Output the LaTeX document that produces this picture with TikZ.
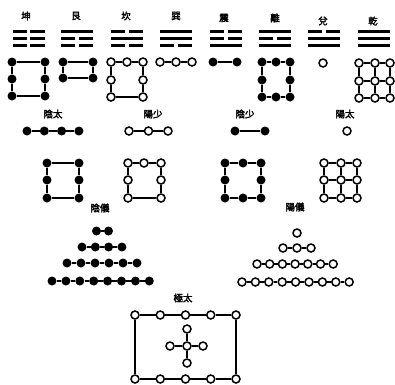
\documentclass[tikz,border=0pt]{standalone}
\usepackage{fontspec}
\newfontfamily\cjk{Noto Sans CJK TC}[FakeBold=2.5]
\newcommand\mytrigram[4]{%
  \foreach \b [count=\k] in {#2,#3,#4}{%
    \pgfmathsetmacro\yy{24.5+7*\k}%
    \ifnum\b=1
      \draw[trl] (#1-16,\yy) -- (#1+16,\yy);
    \else
      \draw[trl] (#1-16,\yy) -- (#1-1.8,\yy) (#1+1.8,\yy) -- (#1+16,\yy);
    \fi}}
% row of dots: name, style, count, xstart, spacing, y
\newcommand\dotrow[6]{%
  \foreach \i in {1,...,#3}{\node[#2] (#1\i) at ({#4+(\i-1)*#5},#6) {};}%
  \foreach \i [evaluate=\i as \j using int(\i-1)] in {2,...,#3}{\draw[ln] (#1\j) -- (#1\i);}}
% six dots: name, style, xl, xr, yt, ym, yb
\newcommand\sqsix[7]{%
  \node[#2] (#1tl) at (#3,#5) {}; \node[#2] (#1tr) at (#4,#5) {};
  \node[#2] (#1ml) at (#3,#6) {}; \node[#2] (#1mr) at (#4,#6) {};
  \node[#2] (#1bl) at (#3,#7) {}; \node[#2] (#1br) at (#4,#7) {};
  \draw[ln] (#1tl) -- (#1tr) (#1bl) -- (#1br) (#1tl) -- (#1ml) -- (#1bl) (#1tr) -- (#1mr) -- (#1br);}
% seven dots: name, style, xl, xm, xr, yt, ym, yb
\newcommand\sqseven[8]{%
  \node[#2] (#1tl) at (#3,#6) {}; \node[#2] (#1tm) at (#4,#6) {}; \node[#2] (#1tr) at (#5,#6) {};
  \node[#2] (#1ml) at (#3,#7) {}; \node[#2] (#1mr) at (#5,#7) {};
  \node[#2] (#1bl) at (#3,#8) {}; \node[#2] (#1br) at (#5,#8) {};
  \draw[ln] (#1tl) -- (#1tm) -- (#1tr) -- (#1mr) -- (#1br) -- (#1bl) -- (#1ml) -- (#1tl);}
% eight dots
\newcommand\sqeight[8]{%
  \node[#2] (#1tl) at (#3,#6) {}; \node[#2] (#1tm) at (#4,#6) {}; \node[#2] (#1tr) at (#5,#6) {};
  \node[#2] (#1ml) at (#3,#7) {}; \node[#2] (#1mr) at (#5,#7) {};
  \node[#2] (#1bl) at (#3,#8) {}; \node[#2] (#1bm) at (#4,#8) {}; \node[#2] (#1br) at (#5,#8) {};
  \draw[ln] (#1tl) -- (#1tm) -- (#1tr) -- (#1mr) -- (#1br) -- (#1bm) -- (#1bl) -- (#1ml) -- (#1tl);}
% nine dots grid
\newcommand\sqnine[8]{%
  \node[#2] (#1tl) at (#3,#6) {}; \node[#2] (#1tm) at (#4,#6) {}; \node[#2] (#1tr) at (#5,#6) {};
  \node[#2] (#1ml) at (#3,#7) {}; \node[#2] (#1mm) at (#4,#7) {}; \node[#2] (#1mr) at (#5,#7) {};
  \node[#2] (#1bl) at (#3,#8) {}; \node[#2] (#1bm) at (#4,#8) {}; \node[#2] (#1br) at (#5,#8) {};
  \draw[ln] (#1tl) -- (#1tm) -- (#1tr) (#1ml) -- (#1mm) -- (#1mr) (#1bl) -- (#1bm) -- (#1br)
    (#1tl) -- (#1ml) -- (#1bl) (#1tm) -- (#1mm) -- (#1bm) (#1tr) -- (#1mr) -- (#1br);}
\begin{document}
\begin{tikzpicture}[x=1pt,y=-1pt,
  bd/.style={circle,fill=black,inner sep=0pt,minimum size=9pt},
  wd/.style={circle,draw=black,fill=white,line width=1.5pt,inner sep=0pt,minimum size=8pt},
  ln/.style={line width=1.5pt},
  trl/.style={line width=2.4pt},
  lab/.style={font=\cjk\fontsize{9.5}{10}\selectfont,inner sep=0pt}]
\useasboundingbox (0,0) rectangle (395,384);
% trigram names
\node[lab] (n1) at (26,16) {坤};
\node[lab] (n2) at (76,16) {艮};
\node[lab] (n3) at (126,16) {坎};
\node[lab] (n4) at (176,16) {巽};
\node[lab] (n5) at (224,18) {震};
\node[lab] (n6) at (275,18) {離};
\node[lab] (n7) at (323,21) {兌};
\node[lab] (n8) at (373,21) {乾};
% trigrams (top to bottom, 1 solid, 0 broken)
\mytrigram{28.5}{0}{0}{0}
\mytrigram{77}{1}{0}{0}
\mytrigram{127}{0}{1}{0}
\mytrigram{176}{1}{1}{0}
\mytrigram{226}{0}{0}{1}
\mytrigram{275}{1}{0}{1}
\mytrigram{324}{0}{1}{1}
\mytrigram{374}{1}{1}{1}
% top row of dot figures
\sqsix{kun}{bd}{12}{45}{62}{79}{96}
\node[bd] (gentl) at (63,62) {}; \node[bd] (gentr) at (93,62) {};
\node[bd] (genbl) at (63,78) {}; \node[bd] (genbr) at (93,78) {};
\draw[ln] (gentl) -- (gentr) -- (genbr) -- (genbl) -- (gentl);
\sqseven{kan}{wd}{111}{127}{143}{62}{80}{97}
\dotrow{xun}{wd}{3}{160}{16}{62}
\dotrow{zhen}{bd}{2}{213}{24}{62}
\sqeight{li}{bd}{262}{276}{290}{62}{80}{97}
\node[wd] (dui) at (323,63) {};
\sqnine{qian}{wd}{359}{375}{390}{63}{81}{98}
% four images
\node[lab] (l1) at (53,114) {陰太};
\node[lab] (l2) at (153,114) {陽少};
\node[lab] (l3) at (245,114) {陰少};
\node[lab] (l4) at (345,114) {陽太};
\dotrow{ta}{bd}{4}{27}{17.3}{131}
\dotrow{sa}{wd}{3}{129}{19.5}{131}
\dotrow{sb}{bd}{2}{235}{30}{131}
\node[wd] (tb) at (347,131) {};
\sqsix{sq1}{bd}{47}{79}{163}{180}{198}
\sqseven{sq2}{wd}{128}{144}{161}{163}{180}{198}
\sqeight{sq3}{bd}{225}{243}{261}{163}{180}{198}
\sqnine{sq4}{wd}{324}{341}{357}{163}{180}{198}
% two modes
\node[lab] (y1) at (100,208) {陰儀};
\node[lab] (y2) at (295,207) {陽儀};
\dotrow{ba}{bd}{2}{96.5}{12}{231}
\dotrow{bb}{bd}{4}{82}{13.3}{247}
\dotrow{bc}{bd}{6}{67}{14}{263}
\dotrow{bdd}{bd}{8}{52}{13.9}{281}
\node[wd] (wa1) at (297,233) {};
\dotrow{wb}{wd}{3}{283}{14}{248}
\dotrow{wc}{wd}{7}{257}{12.7}{264}
\dotrow{wdd}{wd}{9}{242}{13.4}{282}
% great ultimate
\node[lab] (tj) at (183,298) {極太};
\dotrow{tp}{wd}{5}{135}{25.25}{315}
\dotrow{bt}{wd}{5}{135}{25.25}{379}
\draw[ln] (tp1) -- (bt1) (tp5) -- (bt5);
\node[wd] (cc) at (187,346) {};
\node[wd] (ct) at (187,329) {};
\node[wd] (cb) at (187,363) {};
\node[wd] (cl) at (170,346) {};
\node[wd] (cr) at (203,346) {};
\draw[ln] (ct) -- (cc) -- (cb) (cl) -- (cc) -- (cr);
\end{tikzpicture}
\end{document}
